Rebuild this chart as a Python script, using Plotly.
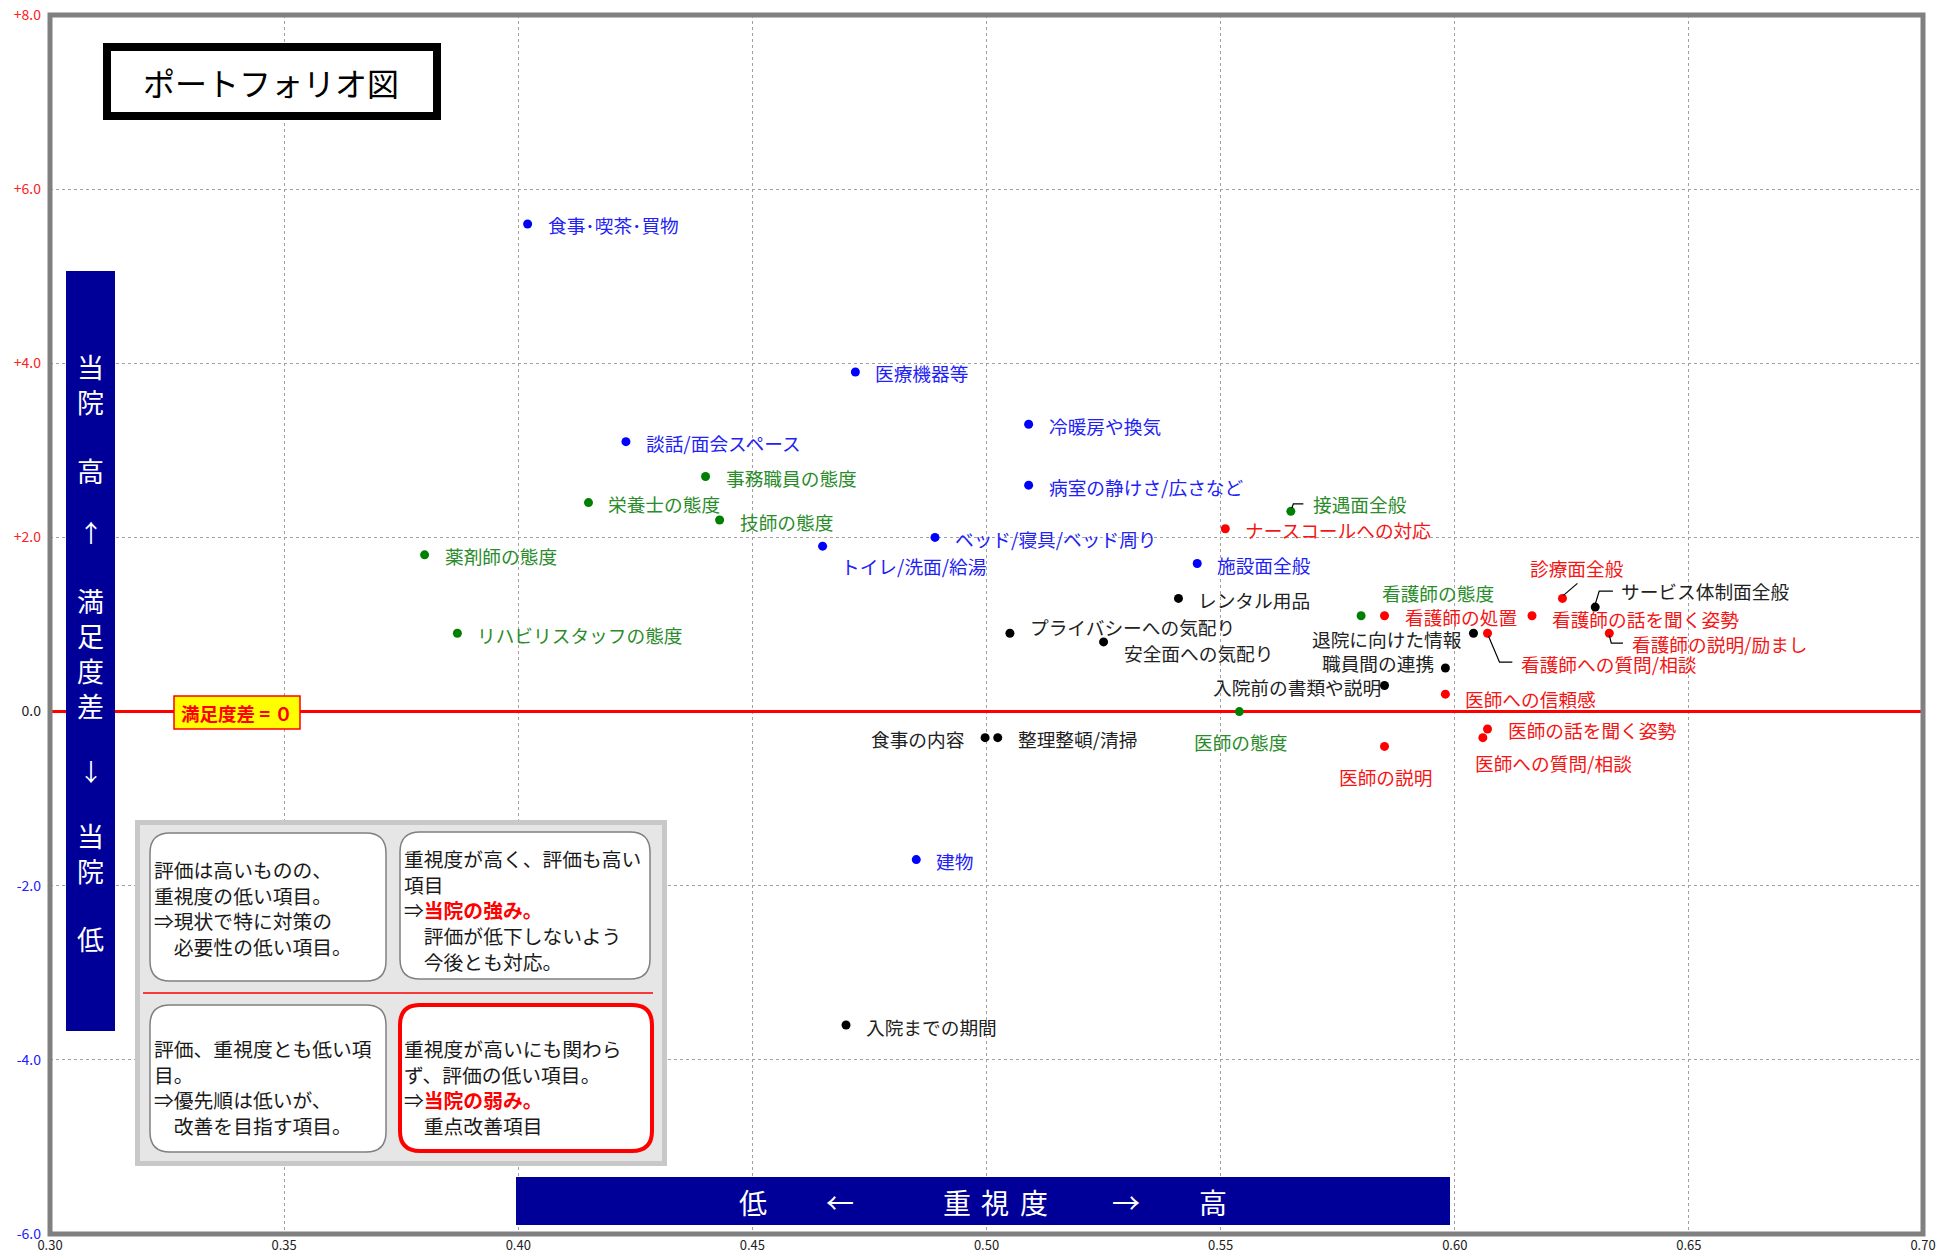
import plotly.graph_objects as go

# ---------------- data ----------------
blue_names = ["食事･喫茶･買物", "医療機器等", "談話/面会スペース", "冷暖房や換気",
              "病室の静けさ/広さなど", "ベッド/寝具/ベッド周り", "トイレ/洗面/給湯",
              "施設面全般", "建物"]
blue_x = [0.402, 0.472, 0.423, 0.509, 0.509, 0.489, 0.465, 0.545, 0.485]
blue_y = [5.6, 3.9, 3.1, 3.3, 2.6, 2.0, 1.9, 1.7, -1.7]

green_names = ["事務職員の態度", "栄養士の態度", "技師の態度", "薬剤師の態度",
               "リハビリスタッフの態度", "接遇面全般", "看護師の態度", "医師の態度"]
green_x = [0.440, 0.415, 0.443, 0.380, 0.387, 0.565, 0.580, 0.554]
green_y = [2.7, 2.4, 2.2, 1.8, 0.9, 2.3, 1.1, 0.0]

red_names = ["ナースコールへの対応", "診療面全般", "看護師の処置", "看護師の話を聞く姿勢",
             "看護師の説明/励まし", "看護師への質問/相談", "医師への信頼感",
             "医師の話を聞く姿勢", "医師への質問/相談", "医師の説明"]
red_x = [0.551, 0.623, 0.585, 0.6165, 0.633, 0.607, 0.598, 0.607, 0.606, 0.585]
red_y = [2.1, 1.3, 1.1, 1.1, 0.9, 0.9, 0.2, -0.2, -0.3, -0.4]

black_names = ["サービス体制面全般", "レンタル用品", "プライバシーへの気配り", "安全面への気配り",
               "退院に向けた情報", "職員間の連携", "入院前の書類や説明", "食事の内容",
               "整理整頓/清掃", "入院までの期間"]
black_x = [0.630, 0.541, 0.505, 0.525, 0.604, 0.598, 0.585, 0.4997, 0.5024, 0.470]
black_y = [1.2, 1.3, 0.9, 0.8, 0.9, 0.5, 0.3, -0.3, -0.3, -3.6]

x_ticks = [0.30, 0.35, 0.40, 0.45, 0.50, 0.55, 0.60, 0.65, 0.70]
x_tick_labels = ["0.30", "0.35", "0.40", "0.45", "0.50", "0.55", "0.60", "0.65", "0.70"]
y_ticks = [8, 6, 4, 2, 0, -2, -4, -6]
y_tick_labels = ["+8.0", "+6.0", "+4.0", "+2.0", "0.0", "-2.0", "-4.0", "-6.0"]
y_tick_colors = ["#FF2020"] * 4 + ["#222222"] + ["#2020FF"] * 3

# ---------------- layout geometry ----------------
W, H = 1943, 1256
L, T, R, B = 50, 15, 1923, 1234
X0, X1, Y0, Y1 = 0.30, 0.70, -6.0, 8.0
PXX = (R - L) / (X1 - X0)
PXY = (B - T) / (Y1 - Y0)
FONT = "Noto Sans CJK JP"
LBL = 18.7


def px(fx):
    return (fx - L) / (R - L)


def py(fy):
    return (B - fy) / (B - T)


# label placement: (xanchor, dx, dy[down], leader offsets in px)
DEFAULT = ("left", 20, 1, None)
PLACE = {
    "トイレ/洗面/給湯": ("left", 18, 19, None),
    "接遇面全般": ("left", 22, -8, [(1, -3), (2.5, -7.5), (12.5, -7.5)]),
    "看護師の態度": ("left", 21, -23, None),
    "医師の態度": ("center", 1, 30, None),
    "診療面全般": ("center", 15, -31, [(1, -3), (15, -15)]),
    "看護師の話を聞く姿勢": ("left", 20, 3, None),
    "看護師の説明/励まし": ("left", 23, 10, [(0, 2), (2, 10), (13.7, 10)]),
    "看護師への質問/相談": ("left", 33, 30, [(1, 3), (12, 29), (24.8, 29)]),
    "医師への信頼感": ("left", 20, 4, None),
    "医師への質問/相談": ("left", -8, 25, None),
    "医師の説明": ("center", 1, 30, None),
    "サービス体制面全般": ("left", 26, -17, [(0, -3), (4, -16), (17.7, -16)]),
    "プライバシーへの気配り": ("left", 20, -7, None),
    "安全面への気配り": ("left", 20, 11, None),
    "退院に向けた情報": ("right", -11, 5, None),
    "職員間の連携": ("right", -11, -6, None),
    "入院前の書類や説明": ("right", -4, 1, None),
    "食事の内容": ("right", -20, 1, None),
}

groups = [
    (blue_names, blue_x, blue_y, "#0000FF", "#2222F5"),
    (green_names, green_x, green_y, "#008000", "#2A8C2A"),
    (red_names, red_x, red_y, "#FF0000", "#F51515"),
    (black_names, black_x, black_y, "#000000", "#222222"),
]

fig = go.Figure()

# zero reference line (満足度差 = 0)
fig.add_trace(go.Scatter(x=[X0, X1], y=[0, 0], mode="lines",
                         line=dict(color="#FF0000", width=3),
                         hoverinfo="skip", showlegend=False))

annotations = []
for names, xs, ys, mcol, tcol in groups:
    fig.add_trace(go.Scatter(x=xs, y=ys, mode="markers", text=names,
                             marker=dict(color=mcol, size=9),
                             hoverinfo="text", showlegend=False))
    for n, xv, yv in zip(names, xs, ys):
        anc, dx, dy, lead = PLACE.get(n, DEFAULT)
        annotations.append(dict(
            x=xv, y=yv, xref="x", yref="y", text=n, showarrow=False,
            xanchor=anc, yanchor="middle", xshift=dx, yshift=-dy,
            borderpad=0, borderwidth=0,
            font=dict(family=FONT, size=LBL, color=tcol)))
        if lead:
            fig.add_trace(go.Scatter(
                x=[xv + a / PXX for a, b in lead],
                y=[yv - b / PXY for a, b in lead],
                mode="lines", line=dict(color="#000000", width=1.2),
                hoverinfo="skip", showlegend=False))


def ann_px(text, fx, fy, size, color, xanchor="center", yanchor="middle", align="center"):
    return dict(xref="paper", yref="paper", x=px(fx), y=py(fy), text=text,
                showarrow=False, xanchor=xanchor, yanchor=yanchor, align=align,
                borderpad=0, borderwidth=0,
                font=dict(family=FONT, size=size, color=color))


def rect(x0, y0, x1, y1, fill, line_color=None, lw=0):
    return dict(type="rect", xref="paper", yref="paper",
                x0=px(x0), x1=px(x1), y0=py(y1), y1=py(y0),
                fillcolor=fill, line=dict(color=line_color or fill, width=lw),
                layer="above")


def rrect(x0, y0, x1, y1, r, fill, line_color, lw):
    pts = [
        ("M", [(x0 + r, y0)]), ("L", [(x1 - r, y0)]), ("Q", [(x1, y0), (x1, y0 + r)]),
        ("L", [(x1, y1 - r)]), ("Q", [(x1, y1), (x1 - r, y1)]), ("L", [(x0 + r, y1)]),
        ("Q", [(x0, y1), (x0, y1 - r)]), ("L", [(x0, y0 + r)]), ("Q", [(x0, y0), (x0 + r, y0)]),
    ]
    path = ""
    for cmd, cs in pts:
        path += cmd + " " + " ".join(f"{px(a):.6f},{py(b):.6f}" for a, b in cs) + " "
    path += "Z"
    return dict(type="path", xref="paper", yref="paper", path=path,
                fillcolor=fill, line=dict(color=line_color, width=lw), layer="above")


shapes = []
# plot frame
shapes.append(dict(type="rect", xref="paper", yref="paper", x0=0, x1=1, y0=0, y1=1,
                   line=dict(color="#808080", width=5), fillcolor="rgba(0,0,0,0)",
                   layer="above"))
# quadrant explanation panel
shapes.append(rect(137.5, 822.5, 664.5, 1163.5, "#E6E6E6", "#C8C8C8", 5))
shapes.append(rrect(150, 833, 386, 981, 20, "#FFFFFF", "#808080", 1.5))
shapes.append(rrect(400, 832, 650, 979, 20, "#FFFFFF", "#808080", 1.5))
shapes.append(rrect(150, 1005, 386, 1152, 20, "#FFFFFF", "#808080", 1.5))
shapes.append(rrect(400, 1005, 652, 1151, 20, "#FFFFFF", "#FF0000", 4))
shapes.append(dict(type="line", xref="paper", yref="paper", x0=px(143), x1=px(653),
                   y0=py(993), y1=py(993), line=dict(color="#FF0000", width=1.5), layer="above"))
# title box
shapes.append(rect(107, 47, 437, 116, "#FFFFFF", "#000000", 8))
# navy bars
shapes.append(rect(66, 271, 115, 1031, "#000099"))
shapes.append(rect(516, 1177, 1450, 1225, "#000099"))
# zero label box
shapes.append(rect(174, 696, 300, 729, "#FFFF00", "#FF0000", 1.5))

annotations.append(ann_px("ポートフォリオ図", 271, 82, 32, "#000000"))
annotations.append(ann_px("<b>満足度差 = ０</b>", 237, 713, 18.5, "#FF0000"))

vbar_groups = ["当<br>院", "高", "↑", "満<br>足<br>度<br>差", "↓", "当<br>院", "低"]
vbar_ys = [384.5, 470, 531, 653, 770, 853, 939]
vbar_sizes = [27, 27, 24, 27, 24, 27, 27]
for g, yy, sz in zip(vbar_groups, vbar_ys, vbar_sizes):
    annotations.append(ann_px(g, 90.5, yy, sz, "#FFFFFF"))

hbar_chars = ["低", "←", "重", "視", "度", "→", "高"]
hbar_xs = [753, 840, 957, 995, 1034, 1126, 1213]
for ch, xx in zip(hbar_chars, hbar_xs):
    annotations.append(ann_px(ch, xx, 1202, 28, "#FFFFFF"))

RED = "<span style='color:#FF0000'><b>{}</b></span>"
tl_text = "評価は高いものの、<br>重視度の低い項目。<br>⇒現状で特に対策の<br>　必要性の低い項目。"
tr_text = ("重視度が高く、評価も高い<br>項目<br>⇒" + RED.format("当院の強み。")
           + "<br>　評価が低下しないよう<br>　今後とも対応。")
bl_text = "評価、重視度とも低い項<br>目。<br>⇒優先順は低いが、<br>　改善を目指す項目。"
br_text = ("重視度が高いにも関わら<br>ず、評価の低い項目。<br>⇒" + RED.format("当院の弱み。")
           + "<br>　重点改善項目")
annotations.append(ann_px(tl_text, 154, 908, 19.8, "#1A1A1A", "left", "middle", "left"))
annotations.append(ann_px(tr_text, 404, 910, 19.8, "#1A1A1A", "left", "middle", "left"))
annotations.append(ann_px(bl_text, 154, 1087, 19.8, "#1A1A1A", "left", "middle", "left"))
annotations.append(ann_px(br_text, 404, 1087, 19.8, "#1A1A1A", "left", "middle", "left"))

y_ticktext = [f"<span style='color:{c}'>{t}</span>" for t, c in zip(y_tick_labels, y_tick_colors)]

fig.update_layout(
    template="none",
    width=W, height=H, autosize=False,
    margin=dict(l=L, r=W - R, t=T, b=H - B, pad=0, autoexpand=False),
    paper_bgcolor="#FFFFFF", plot_bgcolor="#FFFFFF",
    font=dict(family=FONT, size=14, color="#222222"),
    xaxis=dict(range=[X0, X1], tickvals=x_ticks, ticktext=x_tick_labels,
               showgrid=True, gridcolor="#A0A0A0", griddash="dot", gridwidth=1,
               zeroline=False, showline=False, ticks="", automargin=False,
               ticklabelstandoff=2, tickfont=dict(size=13, color="#222222")),
    yaxis=dict(range=[Y0, Y1], tickvals=y_ticks, ticktext=y_ticktext,
               showgrid=True, gridcolor="#A0A0A0", griddash="dot", gridwidth=1,
               zeroline=False, showline=False, ticks="", automargin=False,
               ticklabelstandoff=8, tickfont=dict(size=14)),
    shapes=shapes, annotations=annotations, showlegend=False,
    hovermode="closest",
)

fig.write_html("out.html", config={"displayModeBar": False},
               post_script="document.body.style.margin='0';document.body.style.overflow='hidden';")
